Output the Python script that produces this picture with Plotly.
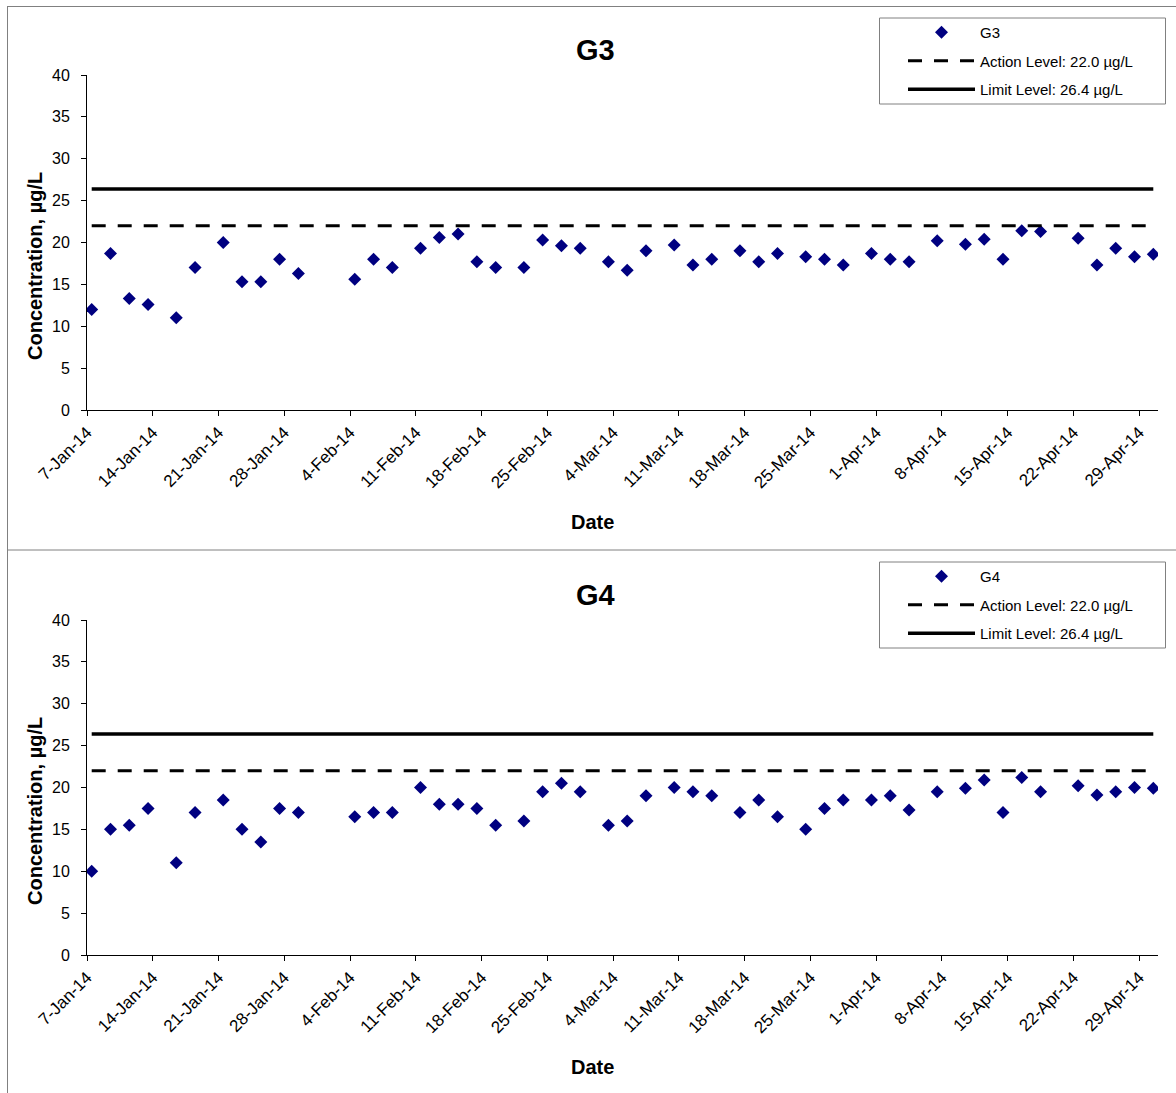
import plotly.graph_objects as go

# ---------------- data ----------------
dates = [
    "2014-01-07 12:00", "2014-01-09 12:00", "2014-01-11 12:00", "2014-01-13 12:00",
    "2014-01-16 12:00", "2014-01-18 12:00", "2014-01-21 12:00", "2014-01-23 12:00",
    "2014-01-25 12:00", "2014-01-27 12:00", "2014-01-29 12:00",
    "2014-02-04 12:00", "2014-02-06 12:00", "2014-02-08 12:00", "2014-02-11 12:00",
    "2014-02-13 12:00", "2014-02-15 12:00", "2014-02-17 12:00", "2014-02-19 12:00",
    "2014-02-22 12:00", "2014-02-24 12:00", "2014-02-26 12:00", "2014-02-28 12:00",
    "2014-03-03 12:00", "2014-03-05 12:00", "2014-03-07 12:00", "2014-03-10 12:00",
    "2014-03-12 12:00", "2014-03-14 12:00", "2014-03-17 12:00", "2014-03-19 12:00",
    "2014-03-21 12:00", "2014-03-24 12:00", "2014-03-26 12:00", "2014-03-28 12:00",
    "2014-03-31 12:00",
    "2014-04-02 12:00", "2014-04-04 12:00", "2014-04-07 12:00", "2014-04-10 12:00",
    "2014-04-12 12:00", "2014-04-14 12:00", "2014-04-16 12:00", "2014-04-18 12:00",
    "2014-04-22 12:00", "2014-04-24 12:00", "2014-04-26 12:00", "2014-04-28 12:00",
    "2014-04-30 12:00",
]

g3_values = [
    12.0, 18.7, 13.3, 12.6, 11.0, 17.0, 20.0, 15.3, 15.3, 18.0, 16.3,
    15.6, 18.0, 17.0, 19.3, 20.6, 21.0, 17.7, 17.0, 17.0, 20.3, 19.6, 19.3,
    17.7, 16.7, 19.0, 19.7, 17.3, 18.0, 19.0, 17.7, 18.7, 18.3, 18.0, 17.3, 18.7,
    18.0, 17.7, 20.2, 19.8, 20.4, 18.0, 21.4, 21.3, 20.5, 17.3, 19.3, 18.3, 18.6,
]

g4_values = [
    10.0, 15.0, 15.5, 17.5, 11.0, 17.0, 18.5, 15.0, 13.5, 17.5, 17.0,
    16.5, 17.0, 17.0, 20.0, 18.0, 18.0, 17.5, 15.5, 16.0, 19.5, 20.5, 19.5,
    15.5, 16.0, 19.0, 20.0, 19.5, 19.0, 17.0, 18.5, 16.5, 15.0, 17.5, 18.5, 18.5,
    19.0, 17.3, 19.5, 19.9, 20.9, 17.0, 21.2, 19.5, 20.2, 19.1, 19.5, 20.0, 19.9,
]

action_level = 22.0
limit_level = 26.4

tick_dates = [
    "2014-01-07", "2014-01-14", "2014-01-21", "2014-01-28", "2014-02-04",
    "2014-02-11", "2014-02-18", "2014-02-25", "2014-03-04", "2014-03-11",
    "2014-03-18", "2014-03-25", "2014-04-01", "2014-04-08", "2014-04-15",
    "2014-04-22", "2014-04-29",
]
tick_labels = [
    "7-Jan-14", "14-Jan-14", "21-Jan-14", "28-Jan-14", "4-Feb-14",
    "11-Feb-14", "18-Feb-14", "25-Feb-14", "4-Mar-14", "11-Mar-14",
    "18-Mar-14", "25-Mar-14", "1-Apr-14", "8-Apr-14", "15-Apr-14",
    "22-Apr-14", "29-Apr-14",
]
x_range = ["2014-01-07", "2014-05-01"]
y_ticks = [0, 5, 10, 15, 20, 25, 30, 35, 40]

x_title = "Date"
y_title = "Concentration, µg/L"

panels = [("G3", g3_values), ("G4", g4_values)]

# ---------------- layout geometry ----------------
W, H = 1176, 1093
FONT = "Arial, Liberation Sans, sans-serif"
NAVY = "#000080"


def px(v):
    return v / W


def py(v):
    return 1 - v / H


plot_tops = [75, 620]
plot_bottoms = [410, 955]
legend_tops = [18, 562]
panel_offsets = [0, 545]

fig = go.Figure()

for i, (name, vals) in enumerate(panels):
    n = "" if i == 0 else str(i + 1)
    xa, ya = "x" + n, "y" + n
    leg = "legend" + n
    fig.add_trace(go.Scatter(
        x=dates, y=vals, mode="markers", name=name,
        marker=dict(symbol="diamond", size=10, color=NAVY),
        xaxis=xa, yaxis=ya, legend=leg, legendgroup=name + "a",
    ))
    fig.add_trace(go.Scatter(
        x=[dates[0], dates[-1]], y=[action_level, action_level], mode="lines",
        name="Action Level: %.1f µg/L" % action_level,
        line=dict(color="black", width=3, dash="14px,12px"),
        xaxis=xa, yaxis=ya, legend=leg, legendgroup=name + "b",
    ))
    fig.add_trace(go.Scatter(
        x=[dates[0], dates[-1]], y=[limit_level, limit_level], mode="lines",
        name="Limit Level: %.1f µg/L" % limit_level,
        line=dict(color="black", width=3.5),
        xaxis=xa, yaxis=ya, legend=leg, legendgroup=name + "c",
    ))

layout = dict(
    width=W, height=H,
    margin=dict(l=0, r=0, t=0, b=0, autoexpand=False),
    paper_bgcolor="white", plot_bgcolor="white",
    font=dict(family=FONT, color="black", size=16),
    showlegend=True,
)

annotations = []
shapes = []
for i, (name, vals) in enumerate(panels):
    n = "" if i == 0 else str(i + 1)
    off = panel_offsets[i]
    layout["xaxis" + n] = dict(
        domain=[px(87), px(1158)], anchor="y" + n,
        type="date", range=x_range, automargin=False,
        tickmode="array", tickvals=tick_dates, ticktext=tick_labels,
        tickangle=-45, ticks="outside", ticklen=5, tickcolor="black",
        showline=True, linecolor="black", linewidth=1,
        showgrid=False, zeroline=False,
        tickfont=dict(size=17, family=FONT),
    )
    layout["yaxis" + n] = dict(
        domain=[py(plot_bottoms[i]), py(plot_tops[i])], anchor="x" + n,
        range=[0, 40], tickmode="array", tickvals=y_ticks, automargin=False,
        ticks="outside", ticklen=5, tickcolor="black", ticklabelstandoff=8,
        showline=True, linecolor="black", linewidth=1,
        showgrid=False, zeroline=False,
        tickfont=dict(size=16, family=FONT),
    )
    layout["legend" + n] = dict(
        x=px(903), y=py(legend_tops[i] - 2), xanchor="left", yanchor="top",
        xref="paper", yref="paper",
        bgcolor="rgba(0,0,0,0)", borderwidth=0,
        font=dict(size=15, family=FONT),
        itemwidth=67, traceorder="grouped", tracegroupgap=6,
    )
    # chart title
    annotations.append(dict(
        x=px(595), y=py(plot_tops[i] - 25), xref="paper", yref="paper",
        text="<b>%s</b>" % name, showarrow=False,
        font=dict(size=29, family=FONT, color="black"),
        xanchor="center", yanchor="middle",
    ))
    # axis titles
    annotations.append(dict(
        x=px(592), y=py(522 + off), xref="paper", yref="paper",
        text="<b>%s</b>" % x_title, showarrow=False,
        font=dict(size=20, family=FONT, color="black"),
        xanchor="center", yanchor="middle",
    ))
    annotations.append(dict(
        x=px(35), y=py(266 + off), xref="paper", yref="paper",
        text="<b>%s</b>" % y_title, showarrow=False, textangle=-90,
        font=dict(size=20, family=FONT, color="black"),
        xanchor="center", yanchor="middle",
    ))
    # legend box
    shapes.append(dict(
        type="rect", xref="paper", yref="paper",
        x0=px(879.5), x1=px(1165.5), y0=py(legend_tops[i] + 86), y1=py(legend_tops[i]),
        line=dict(color="#808080", width=1), fillcolor="white", layer="above",
    ))

# panel borders (top line, separator, left edge)
border = dict(color="#808080", width=1)
shapes += [
    dict(type="line", xref="paper", yref="paper", x0=px(7), x1=1.0, y0=py(6.5), y1=py(6.5), line=border),
    dict(type="line", xref="paper", yref="paper", x0=px(7), x1=1.0, y0=py(550), y1=py(550), line=border),
    dict(type="line", xref="paper", yref="paper", x0=px(7.5), x1=px(7.5), y0=py(6.5), y1=0, line=border),
]

layout["annotations"] = annotations
layout["shapes"] = shapes
fig.update_layout(**layout)

fig.write_html(
    "out.html",
    config={"displayModeBar": False},
    post_script="document.body.style.margin='0';document.body.style.padding='0';",
)
